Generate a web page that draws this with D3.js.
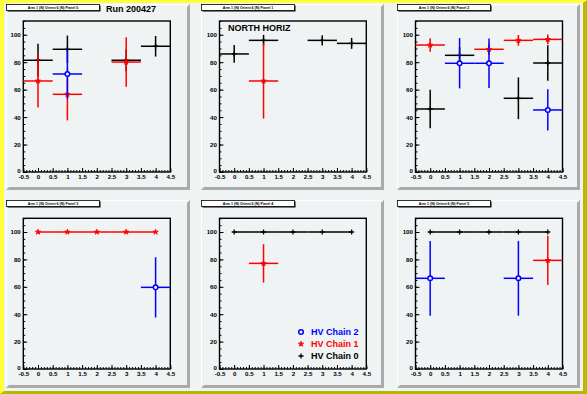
<!DOCTYPE html>
<html>
<head>
<meta charset="utf-8">
<script src="https://cdn.jsdelivr.net/npm/d3@7"></script>
<style>
  html, body { margin: 0; padding: 0; background: #eff3f3; }
  svg { display: block; }
  text { font-family: "Liberation Sans", Arial, Helvetica, sans-serif; font-weight: bold; }
</style>
</head>
<body>
<svg id="chart" width="587" height="394"></svg>
<script>
// ---------------- data ----------------
const xBins = [0, 1, 2, 3, 4];
const binHalfWidth = 0.5;
const panelTitles = [
  "Arm 1 (N) Orient 6 (N) Panel 0",
  "Arm 1 (N) Orient 6 (N) Panel 1",
  "Arm 1 (N) Orient 6 (N) Panel 2",
  "Arm 1 (N) Orient 6 (N) Panel 3",
  "Arm 1 (N) Orient 6 (N) Panel 4",
  "Arm 1 (N) Orient 6 (N) Panel 5"
];
const runLabel = "Run 200427";
const regionLabel = "NORTH HORIZ";
const chainNames = ["HV Chain 2", "HV Chain 1", "HV Chain 0"];

// efficiency (%) per panel, per HV-bin (null = no point)
const chain0Eff = [
  [81.4, 89.4, null, 81.4, 91.6],
  [86.0, 95.9, null, 95.9, 93.7],
  [45.9, 85.0, null, 53.7, 79.4],
  [null, null, null, null, null],
  [100, 100, 100, 100, 100],
  [100, 100, 100, 100, 100]
];
const chain0Err = [
  [12, 10, null, 8, 7.5],
  [6.5, 4, null, 3.7, 4],
  [14, 6, null, 15.2, 13],
  [null, null, null, null, null],
  [0, 0, 0, 0, 0],
  [0, 0, 0, 0, 0]
];
const chain1Eff = [
  [66.3, 56.6, null, 80.1, null],
  [null, 66.3, null, null, null],
  [92.5, null, 89.4, 95.9, 96.6],
  [100, 100, 100, 100, 100],
  [null, 77.1, null, null, null],
  [null, null, null, null, 79.3]
];
const chain1Err = [
  [19.3, 19, null, 18, null],
  [null, 27.4, null, null, null],
  [4.9, null, 4, 3.9, 3.5],
  [0, 0, 0, 0, 0],
  [null, 14, null, null, null],
  [null, null, null, null, 18]
];
const chain2Eff = [
  [null, 71.4, null, null, null],
  [null, null, null, null, null],
  [null, 79.2, 79.2, null, 45.2],
  [null, null, null, null, 59.6],
  [null, null, null, null, null],
  [66.2, null, null, 66.2, null]
];
const chain2Err = [
  [null, 18, null, null, null],
  [null, null, null, null, null],
  [null, 18.3, 18, null, 15],
  [null, null, null, null, 22],
  [null, null, null, null, null],
  [27.3, null, null, 27.3, null]
];

const xDomain = [-0.5, 4.5];
const yDomain = [0, 110];
const xTickValues = [-0.5, 0, 0.5, 1, 1.5, 2, 2.5, 3, 3.5, 4, 4.5];
const xTickLabels = ["-0.5", "0", "0.5", "1", "1.5", "2", "2.5", "3", "3.5", "4", "4.5"];
const yTickValues = [0, 20, 40, 60, 80, 100];
const yTickLabels = ["0", "20", "40", "60", "80", "100"];

// ---------------- layout ----------------
const W = 587, H = 394;
const padFill = "#eff3f3";
const colPads = [[6, 190], [201, 384], [397, 580]];
const rowPads = [[4, 190], [200, 388]];
const colFrames = [[23.3, 170.3], [219.5, 366.3], [415.5, 562.5]];
const rowFrames = [[21, 172], [218.3, 369]];

const svg = d3.select("#chart");

// canvas bevel (yellow)
svg.append("rect").attr("x", 0).attr("y", 0).attr("width", W).attr("height", H).attr("fill", "#ffff3a");
svg.append("polygon")
  .attr("points", `${W},0 ${W},${H} 0,${H} 4,${H-3} ${W-4},${H-3} ${W-4},3`)
  .attr("fill", "#b8b800");
svg.append("rect").attr("x", 4).attr("y", 3).attr("width", W - 8).attr("height", H - 6).attr("fill", padFill);

const series = [
  { eff: chain0Eff, err: chain0Err, color: "#000000", marker: "plus" },
  { eff: chain1Eff, err: chain1Err, color: "#ff0000", marker: "star" },
  { eff: chain2Eff, err: chain2Err, color: "#0000ff", marker: "circle" }
];

function drawMarker(g, type, cx, cy, color) {
  if (type === "plus") {
    g.append("path").attr("d", `M${cx-2.5},${cy}H${cx+2.5}M${cx},${cy-2.5}V${cy+2.5}`)
      .attr("stroke", color).attr("stroke-width", 1.3).attr("fill", "none");
  } else if (type === "star") {
    g.append("path").attr("d", d3.symbol(d3.symbolStar, 9)())
      .attr("transform", `translate(${cx},${cy})`)
      .attr("fill", color).attr("stroke", color).attr("stroke-width", 0.8);
  } else {
    g.append("circle").attr("cx", cx).attr("cy", cy).attr("r", 2.3)
      .attr("fill", padFill).attr("stroke", color).attr("stroke-width", 1.5);
  }
}

for (let p = 0; p < 6; p++) {
  const col = p % 3, row = Math.floor(p / 3);
  const [px0, px1] = colPads[col];
  const [py0, py1] = rowPads[row];
  const [fx0, fx1] = colFrames[col];
  const [fy0, fy1] = rowFrames[row];
  const g = svg.append("g");

  // pad
  g.append("rect").attr("x", px0).attr("y", py0).attr("width", px1 - px0).attr("height", py1 - py0).attr("fill", padFill);
  g.append("path").attr("d", `M${px0+0.5},${py1-3}V${py0+0.5}H${px1-3}`).attr("stroke", "#ffffff").attr("fill", "none");
  g.append("polygon")
    .attr("points", `${px1},${py0} ${px1},${py1} ${px0},${py1} ${px0+3},${py1-3} ${px1-3},${py1-3} ${px1-3},${py0+3}`)
    .attr("fill", "#aaaaaa");

  // title box
  const tbw = 93, tbh = 6;
  g.append("rect").attr("x", px0 + 1.5).attr("y", py0 + 1.5).attr("width", tbw).attr("height", tbh).attr("fill", "#000");
  g.append("rect").attr("x", px0 + 0.5).attr("y", py0 + 0.5).attr("width", tbw).attr("height", tbh)
    .attr("fill", "#ffffff").attr("stroke", "#000").attr("stroke-width", 0.8);
  g.append("text").attr("x", px0 + 0.5 + tbw / 2).attr("y", py0 + 0.5 + tbh / 2).attr("dy", "0.35em")
    .attr("text-anchor", "middle").attr("font-size", 3.6).text(panelTitles[p]);

  const x = d3.scaleLinear().domain(xDomain).range([fx0, fx1]);
  const y = d3.scaleLinear().domain(yDomain).range([fy1, fy0]);

  // axes
  const xMinor = d3.range(-5, 46).map(v => v / 10);
  const yMinor = d3.range(0, 111, 5);
  g.append("g").attr("transform", `translate(0,${fy1})`)
    .call(d3.axisBottom(x).tickValues(xMinor).tickSize(-2).tickFormat(""))
    .call(a => a.select(".domain").remove());
  g.append("g").attr("transform", `translate(${fx0},0)`)
    .call(d3.axisLeft(y).tickValues(yMinor).tickSize(-2).tickFormat(""))
    .call(a => a.select(".domain").remove());
  const xa = g.append("g").attr("transform", `translate(0,${fy1})`)
    .call(d3.axisBottom(x).tickValues(xTickValues).tickSize(-4).tickPadding(3)
      .tickFormat((d, i) => xTickLabels[i]));
  xa.select(".domain").remove();
  xa.selectAll("text").attr("font-size", 6.2).attr("font-family", null);
  const ya = g.append("g").attr("transform", `translate(${fx0},0)`)
    .call(d3.axisLeft(y).tickValues(yTickValues).tickSize(-4).tickPadding(2.5)
      .tickFormat((d, i) => yTickLabels[i]));
  ya.select(".domain").remove();
  ya.selectAll("text").attr("font-size", 6.2).attr("font-family", null)
    .attr("dy", d => d === 0 ? "0.1em" : "0.32em");
  g.selectAll(".tick line").attr("stroke", "#000").attr("stroke-width", 1);

  // frame
  g.append("rect").attr("x", fx0).attr("y", fy0).attr("width", fx1 - fx0).attr("height", fy1 - fy0)
    .attr("fill", "none").attr("stroke", "#000").attr("stroke-width", 1.4);

  // data
  series.forEach(s => {
    const eff = s.eff[p], err = s.err[p];
    const sg = g.append("g");
    xBins.forEach((xb, i) => {
      if (eff[i] === null) return;
      const e = err[i];
      let xlo = xb - binHalfWidth, xhi = xb + binHalfWidth;
      if (e === 0) { // zero-error points: bars stop at first/last bin centre
        xlo = Math.max(xlo, xBins[0]);
        xhi = Math.min(xhi, xBins[xBins.length - 1]);
      }
      const cx = x(xb), cy = y(eff[i]);
      sg.append("line").attr("x1", x(xlo)).attr("x2", x(xhi)).attr("y1", cy).attr("y2", cy)
        .attr("stroke", s.color).attr("stroke-width", 1.5);
      if (e > 0) {
        sg.append("line").attr("x1", cx).attr("x2", cx)
          .attr("y1", y(Math.min(eff[i] + e, yDomain[1]))).attr("y2", y(Math.max(eff[i] - e, 0)))
          .attr("stroke", s.color).attr("stroke-width", 1.5);
      }
      drawMarker(sg, s.marker, cx, cy, s.color);
    });
  });

  if (p === 0) {
    g.append("text").attr("x", 106).attr("y", 12).attr("font-size", 9).text(runLabel);
  }
  if (p === 1) {
    g.append("text").attr("x", 228).attr("y", 31).attr("font-size", 9).text(regionLabel);
  }
  if (p === 4) {
    const legendSeries = [series[2], series[1], series[0]];
    const rowsY = [332, 344, 356];
    legendSeries.forEach((s, i) => {
      drawMarker(g, s.marker, 301, rowsY[i], s.color);
      g.append("text").attr("x", 311).attr("y", rowsY[i]).attr("dy", "0.35em")
        .attr("font-size", 9).attr("fill", s.color).text(chainNames[i]);
    });
  }
}
</script>
</body>
</html>
